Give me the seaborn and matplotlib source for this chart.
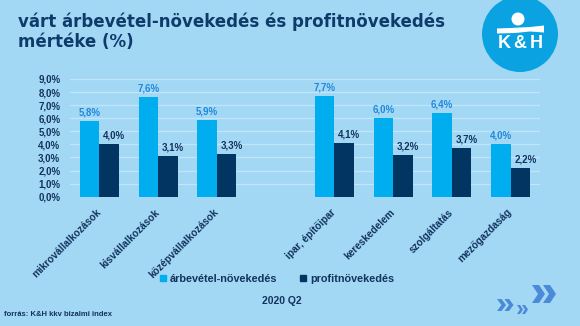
import matplotlib
matplotlib.use("Agg")
import matplotlib.pyplot as plt
from matplotlib.lines import Line2D
from matplotlib.patches import Circle, Polygon
import pandas as pd
import seaborn as sns

# --- data -------------------------------------------------------------
categories = [
    "mikrovállalkozások",
    "kisvállalkozások",
    "középvállalkozások",
    "ipar, építőipar",
    "kereskedelem",
    "szolgáltatás",
    "mezőgazdaság",
]
series_names = ["árbevétel-növekedés", "profitnövekedés"]
revenue_growth = [5.8, 7.6, 5.9, 7.7, 6.0, 6.4, 4.0]
profit_growth = [4.0, 3.1, 3.3, 4.1, 3.2, 3.7, 2.2]
y_ticks = [0, 1, 2, 3, 4, 5, 6, 7, 8, 9]

title_lines = ["várt árbevétel-növekedés és profitnövekedés", "mértéke (%)"]
period = "2020 Q2"
source = "forrás: K&H kkv bizalmi index"

# a blank slot separates company size groups from sectors
order = categories[:3] + [" "] + categories[3:]

# --- colours ------------------------------------------------------------
BG = "#A3D8F5"
LIGHT = "#00AEEF"
DARK = "#023562"
NAVY = "#12335E"
LABEL_BLUE = "#1E88DC"
GRID = "#C2E5F9"

df = pd.DataFrame({
    "kategória": categories * 2,
    "sorozat": [series_names[0]] * len(categories) + [series_names[1]] * len(categories),
    "érték": revenue_growth + profit_growth,
})

sns.set_theme(style="whitegrid", rc={
    "axes.facecolor": BG,
    "figure.facecolor": BG,
    "grid.color": GRID,
    "grid.linewidth": 0.9,
    "axes.edgecolor": BG,
})
plt.rcParams["font.family"] = ["Liberation Sans", "DejaVu Sans"]

W, H = 580, 326
fig = plt.figure(figsize=(W / 100, H / 100), dpi=100)
ax = fig.add_axes([70 / W, (H - 196.7) / H, 470 / W, (196.7 - 79) / H])

sns.barplot(
    data=df, x="kategória", y="érték", hue="sorozat", order=order,
    hue_order=series_names, palette=[LIGHT, DARK], width=0.66,
    saturation=1, legend=False, ax=ax, edgecolor="none", linewidth=0,
)

ax.set_xlim(-0.5, len(order) - 0.5)
ax.set_ylim(0, 9)
ax.set_yticks(y_ticks)
ax.set_yticklabels([f"{t:.1f}".replace(".", ",") + "%" for t in y_ticks],
                   fontsize=7, fontweight="bold", color=NAVY)
ax.grid(axis="x", visible=False)
ax.set_axisbelow(True)
ax.set_xlabel("")
ax.set_ylabel("")
for s in ax.spines.values():
    s.set_visible(False)
ax.tick_params(axis="y", length=0, pad=7)
ax.tick_params(axis="x", length=0, pad=10)
ax.set_xticks(range(len(order)))
ax.set_xticklabels(order, rotation=45, ha="right", va="center",
                   rotation_mode="anchor", fontsize=7.2, fontweight="bold",
                   color=NAVY)


def fmt(v):
    return f"{v:.1f}".replace(".", ",") + "%"


for container, color, dx in zip(ax.containers, [LABEL_BLUE, NAVY], [0, 3.6]):
    anns = ax.bar_label(container, labels=[fmt(v) for v in container.datavalues],
                        padding=2.5, fontsize=7, fontweight="bold", color=color)
    for a in anns:
        a.xyann = (dx, a.xyann[1])

# --- legend ------------------------------------------------------------
handles = [Line2D([], [], marker="s", linestyle="none", markersize=4,
                  color=c) for c in (LIGHT, DARK)]
fig.legend(handles, series_names, loc="center",
           bbox_to_anchor=(277 / W, (H - 279) / H), ncol=2, frameon=False,
           handlelength=0.5, handletextpad=0.35, columnspacing=2.2,
           prop={"weight": "bold", "size": 7.8}, labelcolor=NAVY,
           borderaxespad=0, borderpad=0)

fig.text(282 / W, (H - 301) / H, period, ha="center", va="center",
         fontsize=7.5, fontweight="bold", color=NAVY)
fig.text(4 / W, (H - 314) / H, source, ha="left", va="center",
         fontsize=5.5, fontweight="bold", color=NAVY)

# --- title ---------------------------------------------------------------
for i, line in enumerate(title_lines):
    fig.text(18 / W, (H - 27 - 20 * i) / H, line, ha="left", va="baseline",
             fontsize=12, fontweight="bold", color="#0F3B6B",
             family="DejaVu Sans")

# --- overlay for logo and arrows (pixel coordinates) -----------------
ov = fig.add_axes([0, 0, 1, 1], zorder=5)
ov.set_xlim(0, W)
ov.set_ylim(H, 0)
ov.axis("off")
ov.patch.set_alpha(0)

ov.add_patch(Circle((520, 34), 38, color="#0AA2E0", lw=0))
ov.add_patch(Circle((518, 19), 6.5, color="white", lw=0))
ov.add_patch(Polygon([(497, 28.5), (510, 28), (530, 27), (544, 25.5),
                      (544, 32.5), (530, 31.5), (515, 33), (497, 33.5)],
                     closed=True, color="white", lw=0))
for ch, x in zip("K&H", (504, 520, 536)):
    ov.text(x, 43, ch, ha="center", va="center", fontsize=13,
            fontweight="bold", color="white")


def chevrons(x0, y0, w, h, t, step, n=2, color="#4A8AD6"):
    for k in range(n):
        x = x0 + k * step
        ym = y0 + h / 2
        ov.add_patch(Polygon([(x, y0), (x + t, y0), (x + w, ym),
                              (x + t, y0 + h), (x, y0 + h), (x + w - t, ym)],
                             closed=True, color=color, lw=0))


chevrons(532, 285, 13, 18, 7, 11)
chevrons(497, 299, 9, 12, 4.5, 7.5)
chevrons(517, 305, 6, 9, 3, 5)

fig.savefig("out.png", dpi=100, facecolor=BG)
